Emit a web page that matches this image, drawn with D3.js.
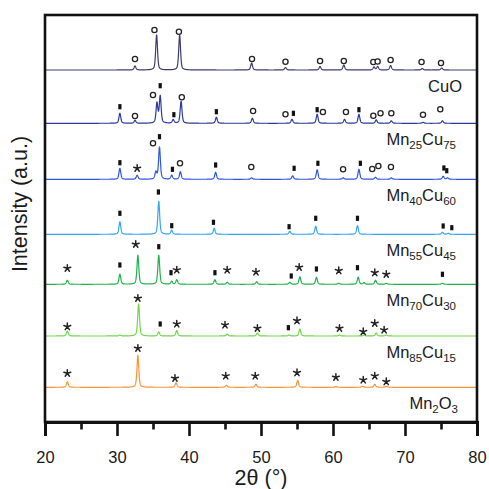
<!DOCTYPE html>
<html><head><meta charset="utf-8">
<script src="https://cdn.jsdelivr.net/npm/d3@7"></script>
<style>
html,body{margin:0;padding:0;background:#fff;}
svg{display:block;font-family:"Liberation Sans",Arial,sans-serif;}
</style></head>
<body>
<svg id="chart" width="489" height="489"></svg>
<script>
// ---- data (2θ in degrees, intensity in arbitrary units above each pattern's baseline) ----
const seriesNames = ["CuO", "Mn25Cu75", "Mn40Cu60", "Mn55Cu45", "Mn70Cu30", "Mn85Cu15", "Mn2O3"];
const offsets = [352, 298.7, 242.7, 187.7, 137.7, 86, 34.7];
const xTicks = [20, 30, 40, 50, 60, 70, 80];
const xMinorTicks = [25, 35, 45, 55, 65, 75];

const peaksCuO = [[32.5,4],[35.5,35],[38.7,35],[48.7,7],[53.4,2.5],[58.2,3.5],[61.5,5],[65.7,3],[66.2,3.5],[68.0,4.5],[72.4,1.5],[75.1,2]];
const peaksMn25 = [[30.4,10],[32.5,3],[35.55,20],[36.0,27],[37.8,3.5],[38.9,22],[43.8,6],[48.8,5],[54.3,4],[57.8,9],[61.6,4],[63.6,9],[66.0,3.5],[68.1,2.5],[72.5,1],[75.2,2.5]];
const peaksMn40 = [[30.4,11],[32.8,4],[35.4,7],[35.9,32],[37.6,4],[38.8,7.5],[43.7,7],[48.7,1.5],[54.4,3.5],[57.8,9.5],[61.4,1.5],[63.6,10],[65.9,2],[68.1,1.5],[75.3,3],[75.9,1.5]];
const peaksMn55 = [[30.4,12.5],[35.8,33],[37.6,4],[43.5,6],[54.0,3],[57.6,8],[63.4,8.5],[75.2,2],[76.0,1]];
const peaksMn70 = [[23.1,4],[30.4,10],[32.9,29],[35.8,29],[37.6,3],[38.3,4.5],[43.6,4.5],[45.3,2],[49.4,2.5],[54.0,2],[55.4,7.5],[57.7,7],[60.8,1],[63.5,7],[64.3,1.5],[65.9,4],[67.4,1],[75.2,1]];
const peaksMn85 = [[23.1,5],[30.4,1],[33.0,32],[35.8,4],[38.3,5.5],[45.3,2],[49.5,3],[53.9,1],[55.4,7],[60.9,1],[64.3,1],[66.0,3],[67.4,1]];
const peaksMn2O3 = [[23.1,5.5],[32.9,32],[38.2,4.5],[45.2,2],[49.3,3],[55.1,7],[60.4,0.8],[64.1,1],[65.8,3],[67.4,1]];

// phase markers: [2θ, height above baseline]
const circlesCuO = [[32.5,11],[35.2,40],[38.6,38.3],[48.75,11],[53.4,8.3],[58.2,9],[61.5,9],[65.6,8],[66.2,8.5],[68.0,10],[72.3,8],[75.0,7]];
const circlesMn25 = [[32.5,7.3],[35.0,28.3],[39.0,26],[48.9,12.3],[53.4,9],[58.6,11.3],[61.8,11.3],[65.6,7.6],[66.6,10],[68.1,10],[72.5,8.6],[74.9,14]];
const squaresMn25 = [[30.4,16.6],[36.0,37.6],[37.9,8.6],[43.8,11.6],[54.5,10],[57.8,13.6],[63.6,13.6]];
const circlesMn40 = [[35.0,36],[38.75,16],[48.65,12.3],[61.4,10],[65.45,10.3],[66.3,13.3],[68.05,12.3]];
const squaresMn40 = [[30.4,16.6],[35.9,42.6],[37.7,10],[43.7,14.3],[54.6,11],[57.9,16],[63.8,16],[75.4,11.3],[75.8,8.6]];
const starsMn40 = [[32.8,11]];
const squaresMn55 = [[30.4,21],[35.75,42.3],[37.6,8.6],[43.4,12],[53.9,7.6],[57.6,16],[63.4,16],[75.3,8.3],[76.5,6.6]];
const starsMn70 = [[23.1,16],[32.6,40],[38.3,14.3],[45.3,14.3],[49.3,12.3],[55.3,17],[60.8,13.6],[65.8,11.6],[67.4,10]];
const squaresMn70 = [[30.4,19.3],[35.8,37.6],[37.5,11.6],[43.6,11.6],[54.2,8.3],[57.7,15.3],[63.4,16.6],[75.2,10]];
const starsMn85 = [[23.1,9.3],[32.9,37.7],[38.3,12],[45.0,11],[49.5,7.7],[55.0,15.3],[60.9,7.7],[64.2,4.3],[65.8,12.7],[67.1,6]];
const squaresMn85 = [[36.0,12],[53.8,8.3]];
const starsMn2O3 = [[23.1,14],[32.9,39],[38.05,9],[45.1,11.3],[49.2,11.3],[55.0,14.6],[60.4,10],[64.2,7.3],[65.8,11.3],[67.4,5.6]];

const allPeaks = [peaksCuO, peaksMn25, peaksMn40, peaksMn55, peaksMn70, peaksMn85, peaksMn2O3];
const allCircles = [circlesCuO, circlesMn25, circlesMn40, [], [], [], []];
const allSquares = [[], squaresMn25, squaresMn40, squaresMn55, squaresMn70, squaresMn85, []];
const allStars = [[], [], starsMn40, [], starsMn70, starsMn85, starsMn2O3];
const colors = ["#3c3c6c", "#2b3a9c", "#2f55e4", "#35a5ef", "#23b14b", "#72d64c", "#f7943c"];

// ---- layout ----
const svg = d3.select("#chart");
const M = {left: 45, right: 477, top: 15, bottom: 422};
const x = d3.scaleLinear().domain([20, 80]).range([M.left, M.right]);
const y = d3.scaleLinear().domain([0, M.bottom - M.top]).range([M.bottom, M.top]);
const FONT = '"Liberation Sans",Arial,sans-serif';

// peak profile (pseudo-Voigt) to draw diffraction peaks
const hw = 0.15;
function profile(peaks, t) {
  let s = 0;
  for (const [p, h] of peaks) {
    const d = (t - p) / hw;
    const L = 1 / (1 + d * d);
    const G = Math.exp(-Math.LN2 * d * d);
    s += h * (0.5 * L + 0.5 * G);
  }
  return s;
}
const grid = d3.range(20, 80.001, 0.02);

const plot = svg.append("g");
plot.append("clipPath").attr("id", "clip").append("rect")
  .attr("x", M.left).attr("y", M.top).attr("width", M.right - M.left).attr("height", M.bottom - M.top);

allPeaks.forEach((peaks, i) => {
  const line = d3.line().x(t => x(t)).y(t => y(offsets[i] + profile(peaks, t)));
  plot.append("path").attr("d", line(grid)).attr("fill", "none")
    .attr("stroke", colors[i]).attr("stroke-width", 1.2).attr("stroke-linejoin", "round")
    .attr("clip-path", "url(#clip)");
});

// markers
const mk = svg.append("g");
allCircles.forEach((arr, i) => {
  mk.selectAll(null).data(arr).enter().append("circle")
    .attr("cx", d => x(d[0])).attr("cy", d => y(offsets[i] + d[1])).attr("r", 2.6)
    .attr("fill", "#fff").attr("stroke", "#222").attr("stroke-width", 1.3);
});
allSquares.forEach((arr, i) => {
  mk.selectAll(null).data(arr).enter().append("rect")
    .attr("x", d => x(d[0]) - 1.6).attr("y", d => y(offsets[i] + d[1]) - 2.6)
    .attr("width", 3.2).attr("height", 5.2).attr("fill", "#111");
});
function starPath(cx, cy, r) {
  let s = "";
  for (let k = 0; k < 5; k++) {
    const a = -Math.PI / 2 + k * 2 * Math.PI / 5;
    s += `M${cx},${cy}L${cx + r * Math.cos(a)},${cy + r * Math.sin(a)}`;
  }
  return s;
}
allStars.forEach((arr, i) => {
  mk.selectAll(null).data(arr).enter().append("path")
    .attr("d", d => starPath(x(d[0]), y(offsets[i] + d[1]), 3.6))
    .attr("stroke", "#222").attr("stroke-width", 1.5).attr("stroke-linecap", "round").attr("fill", "none");
});

// series labels
function addLabel(name, i, xr) {
  const t = svg.append("text").attr("x", xr).attr("y", y(offsets[i]) + 21.5)
    .attr("text-anchor", "end").attr("font-size", 16.5).attr("fill", "#1a1a1a").attr("font-family", FONT);
  const parts = name.match(/[A-Za-z]+|\d+/g);
  parts.forEach((p, k) => {
    const isNum = /^\d+$/.test(p);
    const prevNum = k > 0 && /^\d+$/.test(parts[k - 1]);
    const ts = t.append("tspan").text(p);
    if (isNum) ts.attr("font-size", 11.5).attr("dy", 4);
    else if (prevNum) ts.attr("dy", -4);
  });
}
const labelRight = [462, 456, 456, 456, 456, 456, 458];
seriesNames.forEach((n, i) => addLabel(n, i, labelRight[i]));

// frame
svg.append("rect").attr("x", M.left).attr("y", M.top).attr("width", M.right - M.left).attr("height", M.bottom - M.top)
  .attr("fill", "none").attr("stroke", "#111").attr("stroke-width", 2.6);

// x axis
const ax = svg.append("g").attr("transform", `translate(0,${M.bottom})`)
  .call(d3.axisBottom(x).tickValues(xTicks).tickSize(14).tickPadding(15).tickFormat(d3.format("d")));
ax.select(".domain").attr("stroke", "#111").attr("stroke-width", 3);
ax.selectAll(".tick line").attr("stroke", "#111").attr("stroke-width", 2.6);
ax.selectAll(".tick text").attr("font-size", 16.5).attr("font-family", FONT).attr("fill", "#1a1a1a");
const axm = svg.append("g").attr("transform", `translate(0,${M.bottom})`)
  .call(d3.axisBottom(x).tickValues(xMinorTicks).tickSize(7.5).tickFormat(""));
axm.select(".domain").remove();
axm.selectAll(".tick line").attr("stroke", "#111").attr("stroke-width", 2.6);

// axis titles
svg.append("text").attr("x", (M.left + M.right) / 2).attr("y", 485).attr("text-anchor", "middle")
  .attr("font-size", 21.5).attr("font-family", FONT).attr("fill", "#1a1a1a").text("2θ (°)");
svg.append("text").attr("transform", `translate(27,204) rotate(-90)`).attr("text-anchor", "middle")
  .attr("font-size", 21.5).attr("font-family", FONT).attr("fill", "#1a1a1a").text("Intensity (a.u.)");
</script>
</body></html>
